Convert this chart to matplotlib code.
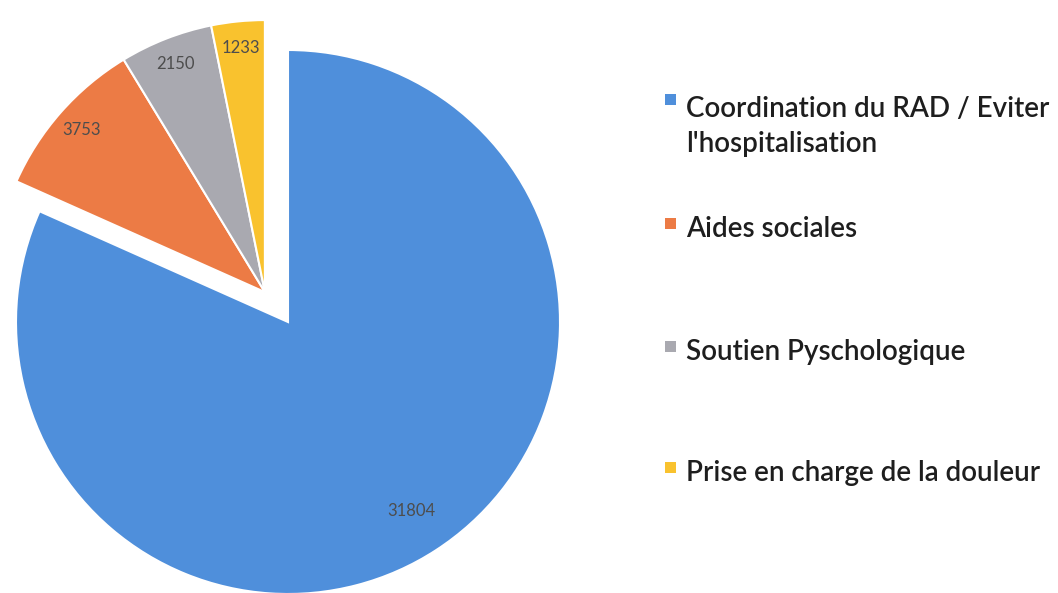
import numpy as np
import matplotlib.pyplot as plt

labels = ["Coordination du RAD / Eviter\nl'hospitalisation", "Aides sociales",
          "Soutien Pyschologique", "Prise en charge de la douleur"]
values = [31804, 3753, 2150, 1233]
colors = ["#4f8fdb", "#ec7b45", "#a9a9b0", "#f9c22e"]

plt.rcParams['font.family'] = ['Lato', 'DejaVu Sans']

W, H = 1058, 593
fig = plt.figure(figsize=(W / 100, H / 100), dpi=100)
ax = fig.add_axes([0, 0, 1, 1])

total = sum(values)
wedges, texts, autotexts = ax.pie(values, colors=colors, startangle=90, counterclock=False,
                                  autopct=lambda p: '%d' % round(p * total / 100),
                                  pctdistance=0.9,
                                  wedgeprops=dict(edgecolor='white', linewidth=1.5),
                                  textprops=dict(fontsize=12, color='#4d4d4d'))

# big label sits a bit further in
x, y = autotexts[0].get_position()
autotexts[0].set_position((x * 0.83 / 0.9, y * 0.83 / 0.9))

# the small slices are pulled out together
shift = np.array([-0.085, 0.11])
for w, t in zip(wedges[1:], autotexts[1:]):
    w.set_center(shift)
    x, y = t.get_position()
    t.set_position((x + shift[0], y + shift[1]))

# 1 unit = 272 px, centre of the pie at pixel (288, 322)
r_px = 272
ax.set_xlim(-288 / r_px, (W - 288) / r_px)
ax.set_ylim(-(H - 322) / r_px, 322 / r_px)
ax.set_aspect('equal')
ax.axis('off')

# legend drawn by hand (pixels from the top: last-line baseline, first-line baseline)
text_base = [152, 237, 360, 481]
mark_base = [113, 237, 360, 481]
for lab, c, b, m in zip(labels, colors, text_base, mark_base):
    fig.text(686 / W, 1 - b / H, lab, fontsize=20, color='#1e1e1e',
             va='baseline', ha='left', linespacing=1.45, fontweight='semibold')
    fig.patches.append(plt.Rectangle((665 / W, 1 - (m - 8) / H), 11 / W, 11 / H,
                                     transform=fig.transFigure, facecolor=c,
                                     edgecolor='none'))

fig.savefig('out.png', dpi=100)
